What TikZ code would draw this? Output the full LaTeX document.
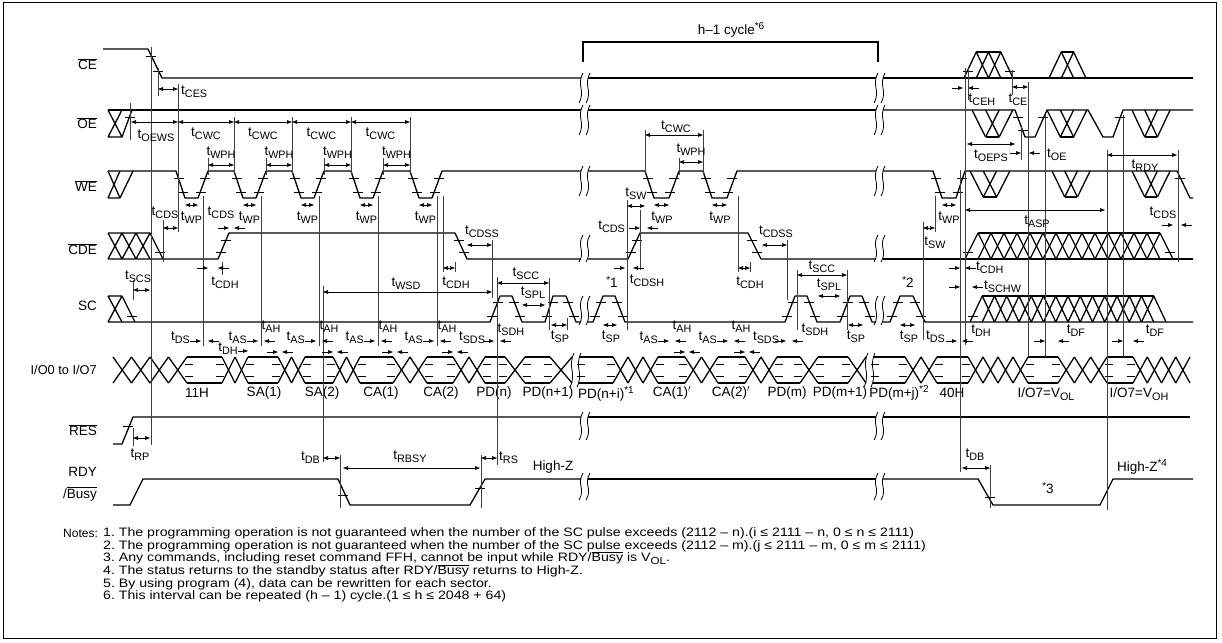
\documentclass[tikz,border=0pt]{standalone}
\usepackage{fontspec}
\setmainfont{Liberation Sans}
\newfontfamily\notefont[FakeStretch=1.16, Ligatures=TeX]{Liberation Sans}
\usetikzlibrary{arrows.meta}

\newcommand{\tm}[1]{t\raisebox{-0.45ex}{\fontsize{10.8}{10.8}\selectfont #1}}
\newcommand{\ovl}[1]{$\overline{\mbox{#1}}$}
\newcommand{\sups}[1]{\raisebox{0.6ex}{\fontsize{10}{10}\selectfont #1}}
\newcommand{\tk}[2]{\draw[tickl] ({#1-5},#2) -- ({#1+5},#2);}
\newcommand{\brk}[3]{\foreach \bx in {#1} {\draw[line width=0.8pt] ({\bx+2},#2) .. controls ({\bx-5},{#2+0.45*(#3-#2)}) and ({\bx+5},{#2+0.55*(#3-#2)}) .. ({\bx-2},#3);}}
\newcommand{\hump}[5]{%
  \foreach \i in {0,...,#3} {
    \draw[sig] ({#1+\i*#2},#4) -- ({#1+(\i+1)*#2},#5);
    \draw[sig] ({#1+(\i+1)*#2},#5) -- ({#1+(\i+2)*#2},#4);}
  \draw[sig] ({#1+#2},#5) -- ({#1+(#3+1)*#2},#5);}
\newcommand{\busx}[3]{%
  \pgfmathsetmacro\bxw{(#2-#1)/#3}
  \foreach \i in {1,...,#3} {
    \draw[sig] ({#1+(\i-1)*\bxw},357) -- ({#1+\i*\bxw},383);
    \draw[sig] ({#1+(\i-1)*\bxw},383) -- ({#1+\i*\bxw},357);}}
\newcommand{\busv}[2]{%
  \draw[sig] (#1,357) -- (#2,357);
  \draw[sig] (#1,383) -- (#2,383);
  \draw[tickl] ({#1-2},364) -- ({#1+6},364) ({#1-2},376) -- ({#1+6},376);
  \draw[tickl] ({#2+2},364) -- ({#2-6},364) ({#2+2},376) -- ({#2-6},376);}
\newcommand{\dimr}[3]{\draw[dim] (#1,#3) -- (#2,#3);}
\newcommand{\pinr}[3]{\draw[pin] ({#1-11},#3) -- (#1,#3); \draw[pin] ({#2+11},#3) -- (#2,#3);}

\tikzset{
  sig/.style={line width=1.3pt, line join=round},
  refl/.style={line width=0.5pt, black!75},
  tickl/.style={line width=0.5pt},
  dim/.style={line width=0.6pt, {Triangle[length=5pt,width=3.6pt]}-{Triangle[length=5pt,width=3.6pt]}},
  pin/.style={line width=0.6pt, -{Triangle[length=5pt,width=3.6pt]}},
  lab/.style={font=\fontsize{13.5}{14}\selectfont, inner sep=0pt},
  sname/.style={font=\fontsize{13.5}{15}\selectfont, inner sep=0pt, anchor=east},
  note/.style={font=\notefont\fontsize{12.2}{13}\selectfont, inner sep=0pt, anchor=west},
}

\begin{document}
\begin{tikzpicture}[x=1pt, y=-1pt, line cap=butt]
\useasboundingbox (0,0) rectangle (1222,642);
\draw[line width=0.8pt] (3,2) rectangle (1216,638);

% signal names
\node[sname] (nce) at (97,64) {\ovl{CE}};
\node[sname] (noe) at (97,123) {\ovl{OE}};
\node[sname] (nwe) at (97,186) {\ovl{WE}};
\node[sname] (ncde) at (97,249) {\ovl{CDE}};
\node[sname] (nsc) at (97,306) {SC};
\node[sname, font=\fontsize{12.8}{14}\selectfont] (nio) at (97,370) {I/O0 to I/O7};
\node[sname] (nres) at (97,430) {\ovl{RES}};
\node[sname] (nrdy) at (97,472) {RDY};
\node[sname] (nbsy) at (97,494) {/\ovl{Busy}};

% h-1 cycle bracket
\draw[line width=1.1pt] (583,62) -- (583,42) -- (878,42) -- (878,62);
\node[lab] (hcyc) at (731,30) {h--1 cycle\sups{*6}};

% CE
\draw[sig] (103,49) -- (148,49) -- (162,78) -- (581,78);
\draw[sig] (588,78) -- (876,78);
\draw[sig] (883,78) -- (1193,78);
\hump{964}{12.25}{2}{78}{52}
\hump{1049}{12.3}{1}{78}{52}
\tk{151}{56} \tk{158}{71} \tk{968}{71} \tk{1010}{71}
\brk{581,588}{73}{103} \brk{876,883}{73}{103}

% OE
\draw[sig] (108,110) -- (122,137) (108,137) -- (122,110) (108,137) -- (122,137) -- (132,110);
\draw[sig] (108,110) -- (581,110);
\draw[sig] (588,110) -- (876,110);
\draw[sig] (883,110) -- (1015,110) -- (1025,137) -- (1035,137) -- (1047,110) -- (1088,110) -- (1103,137) -- (1113,137) -- (1123,110) -- (1193,110);
\hump{972}{13.6}{1}{110}{137}
\hump{1047}{13.3}{1}{110}{137}
\hump{1132}{12.7}{1}{110}{137}
\tk{130}{117} \tk{1018}{117} \tk{1023}{130} \tk{1043}{117} \tk{1120}{117}
\brk{581,588}{105}{135} \brk{876,883}{105}{135}

% WE
\draw[sig] (108,171) -- (120,198) (108,198) -- (120,171) (108,198) -- (120,198) -- (133,171);
\draw[sig] (108,171) foreach \f in {176,234,292,351,410} { -- (\f,171) -- ({\f+9},198) -- ({\f+22},198) -- ({\f+32},171) } -- (581,171);
\foreach \f in {176,234,292,351,410,645,703} {\tk{\f+3}{178} \tk{\f+7}{192} \tk{\f+25}{192} \tk{\f+29}{178}}
\draw[sig] (588,171) -- (645,171) -- (654,198) -- (669,198) -- (679,171) -- (703,171) -- (712,198) -- (727,198) -- (737,171) -- (876,171);
\draw[sig] (883,171) -- (933,171) -- (942,198) -- (956,198) -- (965,171) -- (1177,171) -- (1190,198) -- (1193,198);
\hump{970}{13.3}{1}{171}{197}
\hump{1052}{12.7}{1}{171}{197}
\hump{1132}{12.7}{1}{171}{197}
\tk{936}{178} \tk{940}{192} \tk{958}{192} \tk{962}{178} \tk{1180}{178}
\brk{581,588}{166}{196} \brk{876,883}{166}{196}

% CDE
\foreach \s in {108,122,136} {\draw[sig] (\s,259) -- ({\s+14},233) (\s,233) -- ({\s+14},259);}
\draw[sig] (108,233) -- (150,233) -- (163,259);
\draw[sig] (108,259) -- (218,259) -- (229,233) -- (455,233) -- (467,259) -- (581,259);
\draw[sig] (588,259) -- (628,259) -- (640,233) -- (748,233) -- (761,259) -- (876,259);
\draw[sig] (883,259) -- (1193,259);
\hump{965}{13}{14}{259}{233}
\tk{160}{252} \tk{221}{252} \tk{226}{240} \tk{459}{240} \tk{464}{252}
\tk{631}{252} \tk{637}{240} \tk{752}{240} \tk{757}{252} \tk{968}{252} \tk{1170}{252}
\brk{581,588}{235}{262} \brk{876,883}{235}{262}

% SC
\draw[sig] (108,296) -- (122,322) (108,322) -- (122,296) (108,296) -- (122,296) -- (135,322);
\draw[sig] (108,322) -- (490,322) -- (500,296) -- (512,296) -- (522,322) -- (545,322) -- (553,296) -- (566,296) -- (576,322) -- (581,322);
\draw[sig] (588,322) -- (593,322) -- (603,296) -- (615,296) -- (625,322) -- (785,322) -- (795,296) -- (807,296) -- (817,322) -- (840,322) -- (850,296) -- (862,296) -- (872,322) -- (876,322);
\draw[sig] (883,322) -- (890,322) -- (900,296) -- (913,296) -- (925,322) -- (1193,322);
\hump{970}{12.25}{14}{322}{296}
\foreach \u in {490,545,593,785,840,890} {\tk{\u+2}{316} \tk{\u+8}{302}}
\foreach \d in {512,566,615,807,862,913} {\tk{\d+2}{302} \tk{\d+8}{316}}
\tk{132}{316} \tk{973}{316}
\brk{581,588}{296}{325} \brk{876,883}{296}{325}

% I/O bus
\busx{113}{187}{4} \busv{187}{222}
\busx{222}{248}{2} \busv{248}{278}
\busx{278}{305}{2} \busv{305}{333}
\busx{333}{360}{2} \busv{360}{393}
\busx{393}{427}{2} \busv{427}{453}
\busx{453}{485}{2} \busv{485}{505}
\busx{505}{525}{1} \busv{525}{550}
\busx{550}{572}{1}
\busv{579}{613} \busx{613}{658}{3}
\busv{658}{685} \busx{685}{718}{2}
\busv{718}{745} \busx{745}{777}{2}
\busv{777}{800} \busx{800}{818}{1}
\busv{818}{848} \busx{848}{866}{1}
\busv{873}{905} \busx{905}{937}{2}
\busv{937}{968} \busx{968}{1028}{4}
\busv{1028}{1058} \busx{1058}{1107}{3}
\busv{1107}{1133} \busx{1133}{1190}{4}
\brk{572,579}{353}{387} \brk{866,873}{353}{387}

% data labels
\foreach \x/\t [count=\k] in {197/11H, 264/SA(1), 322/SA(2), 381/CA(1), 441/CA(2), 494/PD(n), 548/PD(n+1),
  672/CA(1)$'$, 731/CA(2)$'$, 787/PD(m), 840/PD(m+1), 952/40H}
  \node[lab] (d\k) at (\x,393) {\t};
\node[lab] (dni) at (606,394) {PD(n+i)\sups{*1}};
\node[lab] (dmj) at (899,393) {PD(m+j)\sups{*2}};
\node[lab] (dvol) at (1046,394) {I/O7=V\raisebox{-0.45ex}{\fontsize{10.8}{10.8}\selectfont OL}};
\node[lab] (dvoh) at (1139,394) {I/O7=V\raisebox{-0.45ex}{\fontsize{10.8}{10.8}\selectfont OH}};

% RES
\draw[sig] (113,444) -- (122,444) -- (133,417) -- (581,417);
\draw[sig] (588,417) -- (876,417);
\draw[sig] (883,417) -- (1190,417);
\tk{128}{426}
\brk{581,588}{412}{440} \brk{876,883}{412}{440}

% RDY/Busy
\draw[sig] (113,505) -- (130,505) -- (143,479) -- (338,479) -- (350,505) -- (470,505) -- (485,479) -- (581,479);
\draw[sig] (588,479) -- (876,479);
\draw[sig] (883,479) -- (978,479) -- (993,505) -- (1100,505) -- (1113,479) -- (1193,479);
\tk{343}{495} \tk{480}{488} \tk{990}{497}
\brk{581,588}{473}{500} \brk{876,883}{473}{500}
\node[lab] (hz1) at (553,467) {High-Z};
\node[lab] (hz2) at (1142,467) {High-Z\sups{*4}};
\node[lab] (st3) at (1048,488) {\sups{*}3};

% reference lines
\draw[refl] (151,47) -- (151,445);
\draw[refl] (158,68) -- (158,96);
\draw[refl] (178,84) -- (178,232);
\draw[refl] (130,103) -- (130,140);
\draw[refl] (133,280) -- (133,300) (133,428) -- (133,446);
\foreach \x in {234,292,351,410} \draw[refl] (\x,117) -- (\x,175);
\foreach \x in {208,266,324,383} \draw[refl] (\x,158) -- (\x,175);
\draw[refl] (163,220) -- (163,262);
\foreach \x in {203,261,319,378,437} \draw[refl] (\x,196) -- (\x,346);
\draw[refl] (222,262) -- (222,275);
\draw[refl] (323,286) -- (323,462);
\draw[refl] (340,455) -- (340,508) (481,455) -- (481,508);
\draw[refl] (497,277) -- (497,465);
\draw[refl] (492,240) -- (492,298);
\draw[refl] (455,262) -- (455,272) (443,196) -- (443,272);
\draw[refl] (549,278) -- (549,330) (567,318) -- (567,330);
\draw[refl] (627,200) -- (627,330) (640,210) -- (640,270);
\draw[refl] (645,130) -- (645,175) (703,130) -- (703,175) (679,158) -- (679,175);
\draw[refl] (738,196) -- (738,272) (750,262) -- (750,272);
\draw[refl] (787,240) -- (787,300) (797,270) -- (797,330) (847,270) -- (847,330);
\draw[refl] (923,222) -- (923,340) (935,196) -- (935,232);
\draw[refl] (960,170) -- (960,472) (965,68) -- (965,345) (968,68) -- (968,100);
\draw[refl] (1012,70) -- (1012,95) (1028,82) -- (1028,357);
\draw[refl] (1021,125) -- (1021,160);
\draw[refl] (1045,115) -- (1045,357) (1123,115) -- (1123,357);
\draw[refl] (1107,150) -- (1107,510);
\draw[refl] (1178,150) -- (1178,262);
\draw[refl] (990,465) -- (990,508);

% timing: CE / OE
\dimr{158}{178}{89} \node[lab, anchor=west] (ces) at (181,92) {\tm{CES}};
\dimr{131}{178}{122} \node[lab] (oews) at (156,136) {\tm{OEWS}};
\foreach \a/\b [count=\k] in {178/234, 234/292, 292/351, 351/410} {
  \dimr{\a}{\b}{122} \node[lab] (cwc\k) at ({(\a+\b)/2},134) {\tm{CWC}};}
\foreach \a/\b [count=\k] in {208/234, 266/292, 324/351, 383/410} {
  \dimr{\a}{\b}{165} \node[lab] (wph\k) at ({(\a+\b)/2},153) {\tm{WPH}};}
\dimr{645}{703}{135} \node[lab] (cwc5) at (676,127) {\tm{CWC}};
\dimr{679}{703}{162} \node[lab] (wph5) at (691,150) {\tm{WPH}};
\pinr{963}{968}{88} \node[lab] (ceh) at (982,100) {\tm{CEH}};
\dimr{1012}{1028}{87} \node[lab] (ce) at (1018,100) {\tm{CE}};
\dimr{967}{1015}{144} \node[lab] (oeps) at (991,156) {\tm{OEPS}};
\pinr{1021}{1029}{153} \node[lab, anchor=west] (toe) at (1047,155) {\tm{OE}};
\dimr{1107}{1177}{155} \node[lab] (rdy) at (1145,166) {\tm{RDY}};

% timing: WE / CDE / SC
\foreach \f [count=\k] in {176,234,292,351,410} {
  \dimr{\f+9}{\f+22}{205} \node[lab] (wp\k) at ({\f+15.5},218) {\tm{WP}};}
\dimr{654}{669}{205} \node[lab] (wp6) at (662,218) {\tm{WP}};
\dimr{712}{727}{205} \node[lab] (wp7) at (720,218) {\tm{WP}};
\dimr{942}{956}{205} \node[lab] (wp8) at (949,218) {\tm{WP}};
\dimr{163}{178}{228} \node[lab] (cds1) at (165,213) {\tm{CDS}};
\pinr{229}{234}{228} \node[lab] (cds2) at (221,213) {\tm{CDS}};
\pinr{208}{218}{268} \node[lab] (cdh1) at (225,283) {\tm{CDH}};
\dimr{443}{455}{268} \node[lab] (cdh2) at (456,283) {\tm{CDH}};
\dimr{467}{492}{245} \node[lab] (cdss1) at (482,232) {\tm{CDSS}};
\dimr{323}{492}{292} \node[lab] (wsd) at (406,284) {\tm{WSD}};
\dimr{497}{549}{283} \node[lab] (scc1) at (526,274) {\tm{SCC}};
\dimr{522}{545}{305} \node[lab] (spl1) at (533,293) {\tm{SPL}};
\dimr{551}{567}{325} \node[lab] (sp1) at (560,337) {\tm{SP}};
\dimr{133}{150}{290} \node[lab] (scs) at (138,277) {\tm{SCS}};
\dimr{603}{617}{325} \node[lab] (sp2) at (611,337) {\tm{SP}};
\dimr{627}{645}{206} \node[lab] (sw1) at (636,194) {\tm{SW}};
\pinr{640}{647}{228} \node[lab, anchor=east] (cds3) at (625,227) {\tm{CDS}};
\pinr{625}{633}{268} \node[lab] (cdsh) at (647,281) {\tm{CDSH}};
\node[lab] (st1) at (612,282) {\sups{*}1};
\dimr{738}{750}{268} \node[lab] (cdh3) at (750,283) {\tm{CDH}};
\dimr{762}{787}{245} \node[lab] (cdss2) at (776,232) {\tm{CDSS}};
\dimr{797}{847}{275} \node[lab] (scc2) at (822,267) {\tm{SCC}};
\dimr{818}{840}{296} \node[lab] (spl2) at (829,285) {\tm{SPL}};
\dimr{848}{863}{325} \node[lab] (sp3) at (856,337) {\tm{SP}};
\node[lab] (st2) at (908,282) {\sups{*}2};
\dimr{900}{915}{325} \node[lab] (sp4) at (909,337) {\tm{SP}};
\dimr{923}{935}{228} \node[lab] (sw2) at (935,243) {\tm{SW}};
\dimr{965}{1105}{210} \node[lab] (asp) at (1037,222) {\tm{ASP}};
\pinr{1173}{1181}{225} \node[lab] (cds4) at (1163,213) {\tm{CDS}};
\pinr{960}{965}{268} \node[lab, anchor=west] (cdh4) at (976,268) {\tm{CDH}};
\pinr{960}{972}{287} \node[lab, anchor=west] (schw) at (984,287) {\tm{SCHW}};

% timing: I/O
\pinr{201}{208}{341} \node[lab, anchor=east] (ds1) at (190,338) {\tm{DS}};
\draw[pin] (238,351) -- (248,351); \node[lab] (dh1) at (228,349) {\tm{DH}};
\foreach \a/\r/\b [count=\k] in {248/261/278, 305/319/333, 360/378/393, 427/437/453} {
  \pinr{\r-3}{\r+3}{341} \pinr{\b}{\b+4}{352}
  \node[lab, anchor=east] (as\k) at ({\r-14},338) {\tm{AS}};
  \node[lab] (ah\k) at ({\r+10},327) {\tm{AH}};}
\pinr{494}{500}{341} \node[lab] (sds1) at (472,338) {\tm{SDS}};
\node[lab] (sdh1) at (511,330) {\tm{SDH}};
\foreach \a/\r/\b [count=\k] in {658/672/685, 718/731/745} {
  \pinr{\r-3}{\r+3}{341} \pinr{\b}{\b+4}{352}
  \node[lab, anchor=east] (asb\k) at ({\r-14},338) {\tm{AS}};
  \node[lab] (ahb\k) at ({\r+10},327) {\tm{AH}};}
\pinr{786}{792}{341} \node[lab] (sds2) at (766,338) {\tm{SDS}};
\node[lab] (sdh2) at (815,330) {\tm{SDH}};
\pinr{957}{962}{341} \node[lab, anchor=east] (ds2) at (945,337) {\tm{DS}};
\node[lab] (dh2) at (981,331) {\tm{DH}};
\pinr{1045}{1058}{341} \node[lab] (df1) at (1076,331) {\tm{DF}};
\pinr{1123}{1133}{341} \node[lab] (df2) at (1155,331) {\tm{DF}};

% timing: RES / RDY
\dimr{133}{150}{438} \node[lab] (rp) at (140,455) {\tm{RP}};
\dimr{323}{340}{458} \node[lab, anchor=east] (db1) at (320,458) {\tm{DB}};
\dimr{343}{480}{468} \node[lab] (rbsy) at (410,457) {\tm{RBSY}};
\dimr{481}{497}{458} \node[lab, anchor=west] (rs) at (499,458) {\tm{RS}};
\dimr{962}{990}{468} \node[lab] (db2) at (975,455) {\tm{DB}};

% notes
\node[note, font=\fontsize{12}{13}\selectfont] (nts) at (63,533) {Notes:};
\foreach \y/\t in {533/{1.\ The programming operation is not guaranteed when the number of the SC pulse exceeds (2112 – n).(i ≤ 2111 – n, 0 ≤ n ≤ 2111)},
  546/{2.\ The programming operation is not guaranteed when the number of the SC pulse exceeds (2112 – m).(j ≤ 2111 – m, 0 ≤ m ≤ 2111)},
  558/{3.\ Any commands, including reset command FFH, cannot be input while RDY/\ovl{Busy} is V\raisebox{-0.4ex}{\fontsize{10}{10}\selectfont OL}.},
  571/{4.\ The status returns to the standby status after RDY/\ovl{Busy} returns to High-Z.},
  584/{5.\ By using program (4), data can be rewritten for each sector.},
  596/{6.\ This interval can be repeated (h – 1) cycle.(1 ≤ h ≤ 2048 + 64)}}
  \node[note] at (103,\y) {\t};
\end{tikzpicture}
\end{document}
